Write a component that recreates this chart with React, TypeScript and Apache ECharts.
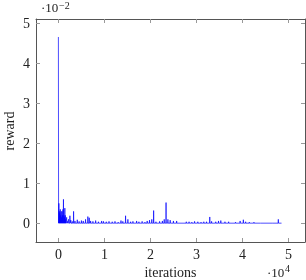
import React, { useEffect, useRef } from "react";
import * as echarts from "echarts";

// iterations at which reward spikes occur, and the spike heights
const spikeIters = [
  0, 100, 200, 300, 400, 500, 600, 700, 800, 900, 1000, 1100, 1200, 1300, 1400, 1500, 1600, 1800,
  2000, 2200, 2500, 2700, 3000, 3300, 3600, 4100, 4500, 5000, 5400, 5900, 6400, 6700, 7000, 7500,
  8100, 8700, 9400, 9800, 10400, 11000, 11700, 12300, 13000, 13600, 14000, 14600, 15100, 15700,
  16200, 17000, 17500, 18200, 18800, 19300, 19800, 20300, 20700, 21200, 22000, 22600, 23000, 23400,
  23800, 24300, 25000, 25700, 27800, 28400, 29000, 29600, 30300, 31000, 31600, 32200, 32900, 33300,
  34200, 34800, 35300, 36200, 37000, 38500, 39500, 40200, 40700, 41500, 42500, 44000, 46500, 47800,
];
const spikeRewards = [
  0.0466, 0.005, 0.003, 0.0025, 0.0035, 0.002, 0.003, 0.0015, 0.003, 0.002, 0.0035, 0.006, 0.002,
  0.0015, 0.0038, 0.002, 0.001, 0.0015, 0.0005, 0.001, 0.0019, 0.0008, 0.0005, 0.003, 0.0006, 0.0009,
  0.0005, 0.0007, 0.0006, 0.001, 0.0017, 0.0014, 0.0006, 0.0005, 0.0007, 0.0004, 0.0006, 0.0005,
  0.0004, 0.0005, 0.0004, 0.0005, 0.0003, 0.0007, 0.0005, 0.0019, 0.001, 0.0004, 0.0005, 0.0006,
  0.0004, 0.0005, 0.0003, 0.0006, 0.0008, 0.001, 0.0032, 0.0004, 0.0005, 0.0006, 0.001, 0.0052, 0.001,
  0.0008, 0.0006, 0.0006, 0.0004, 0.0004, 0.0003, 0.0005, 0.0004, 0.0003, 0.0004, 0.0004, 0.0016,
  0.0005, 0.0004, 0.0006, 0.0007, 0.0004, 0.0004, 0.0003, 0.0006, 0.0009, 0.0004, 0.0003, 0.0003,
  0.0002, 0.0002, 0.001,
];
const baselineReward = 0.00005;
const lastIter = 48500;

const xTicks = [0, 10000, 20000, 30000, 40000, 50000];
const yTicks = [0, 0.01, 0.02, 0.03, 0.04, 0.05];

const FONT = "'Liberation Serif', 'Times New Roman', serif";

function buildSeries(): [number, number][] {
  const out: [number, number][] = [];
  spikeIters.forEach((it, i) => {
    if (it > 0) out.push([it - 40, baselineReward]);
    out.push([it, spikeRewards[i]]);
    out.push([it + 40, baselineReward]);
  });
  out.push([lastIter, baselineReward]);
  return out;
}

export default function App() {
  const ref = useRef<HTMLDivElement>(null);
  useEffect(() => {
    if (!ref.current) return;
    const chart = echarts.init(ref.current, undefined, { renderer: "svg" });
    const axisLine = { show: true, onZero: false, lineStyle: { color: "#555", width: 1 } };
    const tickStyle = { show: true, inside: true, length: 4, lineStyle: { color: "#999", width: 1 } };
    chart.setOption({
      animation: false,
      grid: { left: 36, right: 1, top: 19, bottom: 38, outerBoundsMode: "none", containLabel: false },
      xAxis: [
        {
          type: "value",
          min: -4870,
          max: 53600,
          position: "bottom",
          axisLine,
          axisTick: { ...tickStyle, customValues: xTicks },
          axisLabel: {
            customValues: xTicks,
            formatter: (v: number) => String(Math.round(v / 10000)),
            fontFamily: FONT,
            fontSize: 14,
            color: "#222",
            margin: 5,
          },
          splitLine: { show: false },
          name: "iterations",
          nameLocation: "middle",
          nameGap: 23,
          nameTextStyle: { fontFamily: FONT, fontSize: 14, color: "#222" },
        },
        {
          type: "value",
          min: -4870,
          max: 53600,
          position: "top",
          axisLine,
          axisTick: { ...tickStyle, customValues: xTicks },
          axisLabel: { show: false },
          splitLine: { show: false },
        },
      ],
      yAxis: [
        {
          type: "value",
          min: -0.00466,
          max: 0.0511,
          position: "left",
          axisLine,
          axisTick: { ...tickStyle, customValues: yTicks },
          axisLabel: {
            customValues: yTicks,
            formatter: (v: number) => String(Math.round(v * 100)),
            fontFamily: FONT,
            fontSize: 14,
            color: "#222",
            margin: 6,
          },
          splitLine: { show: false },
        },
        {
          type: "value",
          min: -0.00466,
          max: 0.0511,
          position: "right",
          axisLine,
          axisTick: { ...tickStyle, customValues: yTicks },
          axisLabel: { show: false },
          splitLine: { show: false },
        },
      ],
      graphic: [
        {
          type: "text",
          x: 9,
          y: 131,
          rotation: Math.PI / 2,
          style: {
            text: "reward",
            font: `14px ${FONT}`,
            fill: "#222",
            align: "center",
            verticalAlign: "middle",
          },
        },
        { type: "text", x: 41, y: 1, style: { text: "·10", font: `13px ${FONT}`, fill: "#222" } },
        { type: "text", x: 59, y: 0, style: { text: "−2", font: `10px ${FONT}`, fill: "#222" } },
        { type: "text", x: 267, y: 266, style: { text: "·10", font: `13px ${FONT}`, fill: "#222" } },
        { type: "text", x: 285, y: 263, style: { text: "4", font: `10px ${FONT}`, fill: "#222" } },
      ],
      series: [
        {
          type: "line",
          xAxisIndex: 0,
          yAxisIndex: 0,
          data: buildSeries(),
          showSymbol: false,
          symbol: "none",
          lineStyle: { color: "#0000ff", width: 0.7 },
        },
      ],
    });
    return () => chart.dispose();
  }, []);
  return <div ref={ref} style={{ position: "fixed", left: 0, top: 0, width: 306, height: 280 }} />;
}
